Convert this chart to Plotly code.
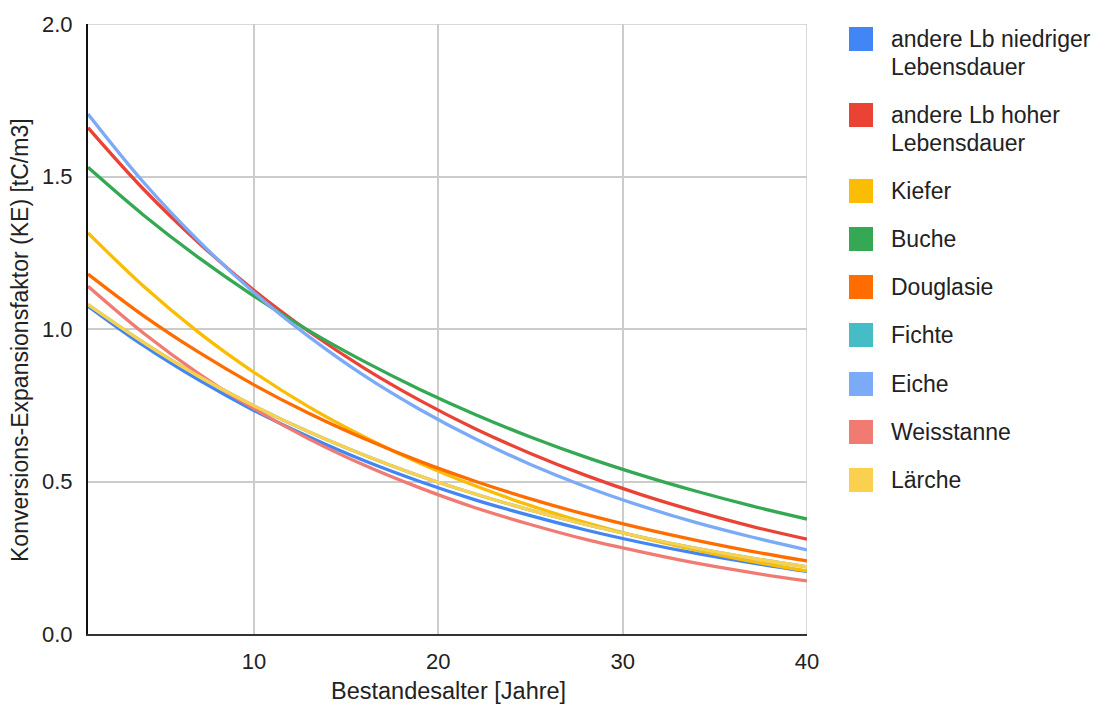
import plotly.graph_objects as go

ages = [1, 4, 7, 10, 13, 16, 19, 22, 25, 28, 31, 34, 37, 40]

names = [
    "andere Lb niedriger<br>Lebensdauer",
    "andere Lb hoher<br>Lebensdauer",
    "Kiefer",
    "Buche",
    "Douglasie",
    "Fichte",
    "Eiche",
    "Weisstanne",
    "Lärche",
]
colors = ["#4285F4", "#EA4335", "#FBBC04", "#34A853", "#FF6D01",
          "#46BDC6", "#7BAAF7", "#F07B72", "#FCD04F"]

lb_niedrig = [1.075, 0.946, 0.833, 0.733, 0.646, 0.568, 0.500, 0.440, 0.388, 0.341, 0.300, 0.264, 0.233, 0.205]
lb_hoch = [1.660, 1.459, 1.283, 1.127, 0.991, 0.871, 0.766, 0.673, 0.592, 0.520, 0.457, 0.402, 0.353, 0.311]
kiefer = [1.315, 1.141, 0.989, 0.858, 0.744, 0.646, 0.560, 0.486, 0.421, 0.365, 0.317, 0.275, 0.238, 0.207]
buche = [1.530, 1.374, 1.234, 1.108, 0.994, 0.893, 0.802, 0.720, 0.646, 0.580, 0.521, 0.468, 0.420, 0.377]
douglasie = [1.180, 1.044, 0.924, 0.817, 0.723, 0.640, 0.566, 0.501, 0.443, 0.392, 0.347, 0.307, 0.271, 0.240]
fichte = [1.080, 0.956, 0.845, 0.748, 0.662, 0.586, 0.518, 0.459, 0.406, 0.359, 0.318, 0.281, 0.249, 0.220]
eiche = [1.705, 1.482, 1.289, 1.120, 0.974, 0.846, 0.736, 0.640, 0.556, 0.483, 0.420, 0.365, 0.318, 0.276]
weisstanne = [1.140, 0.987, 0.854, 0.739, 0.639, 0.553, 0.479, 0.414, 0.359, 0.310, 0.269, 0.232, 0.201, 0.174]
laerche = [1.080, 0.956, 0.845, 0.748, 0.662, 0.586, 0.518, 0.459, 0.406, 0.359, 0.318, 0.281, 0.249, 0.220]

series = [lb_niedrig, lb_hoch, kiefer, buche, douglasie, fichte, eiche, weisstanne, laerche]

x_ticks = [10, 20, 30, 40]
y_ticks = [0.0, 0.5, 1.0, 1.5, 2.0]
y_tick_labels = ["0.0", "0.5", "1.0", "1.5", "2.0"]

x_title = "Bestandesalter [Jahre]"
y_title = "Konversions-Expansionsfaktor (KE) [tC/m3]"

W, H = 1105, 707
L, R, T, B = 88, 807, 24, 634   # plot area in pixels
FONT = "Liberation Sans, Arial, sans-serif"
TXT = "#222222"


def px_x(p):
    return (p - L) / (R - L)


def px_y(p):
    return (B - p) / (B - T)


fig = go.Figure()
for name, col, vals in zip(names, colors, series):
    fig.add_trace(go.Scatter(
        x=ages, y=vals, mode="lines", name=name.replace("<br>", " "),
        line=dict(color=col, width=3.3, shape="spline", smoothing=1.0),
        showlegend=False,
    ))

fig.update_layout(
    width=W, height=H,
    margin=dict(l=L, r=W - R, t=T, b=H - B, autoexpand=False),
    paper_bgcolor="white", plot_bgcolor="white",
    font=dict(family=FONT, size=22, color=TXT),
    showlegend=False,
)
fig.update_xaxes(
    range=[1, 40], tickvals=x_ticks, ticktext=[str(v) for v in x_ticks],
    showgrid=True, gridcolor="#CCCCCC", gridwidth=1.5,
    showline=True, linecolor="#333333", linewidth=2,
    zeroline=False, ticks="outside", ticklen=7, tickcolor="rgba(0,0,0,0)",
    tickfont=dict(family=FONT, size=22, color=TXT), automargin=False,
)
fig.update_yaxes(
    range=[0, 2.0], tickvals=y_ticks, ticktext=y_tick_labels,
    showgrid=True, gridcolor="#CCCCCC", gridwidth=1.5,
    showline=True, linecolor="#111111", linewidth=2,
    zeroline=False, ticks="outside", ticklen=9, tickcolor="rgba(0,0,0,0)",
    tickfont=dict(family=FONT, size=22, color=TXT), automargin=False,
)
# right and top frame gridlines
fig.add_shape(type="line", xref="x", yref="paper", x0=40, x1=40, y0=0, y1=1,
              line=dict(color="#CCCCCC", width=1.5), layer="below")
fig.add_shape(type="line", xref="paper", yref="y", x0=0, x1=1, y0=2, y1=2,
              line=dict(color="#CCCCCC", width=1.5), layer="below")

# axis titles
fig.add_annotation(text=x_title, xref="paper", yref="paper",
                   x=px_x(448), y=px_y(691), xanchor="center", yanchor="middle",
                   showarrow=False, font=dict(family=FONT, size=23.5, color=TXT))
fig.add_annotation(text=y_title, xref="paper", yref="paper",
                   x=px_x(20), y=px_y(340), xanchor="center", yanchor="middle",
                   textangle=-90, showarrow=False,
                   font=dict(family=FONT, size=23, color=TXT))

# custom legend (square swatches + labels)
legend_centers = [39, 115, 191, 239, 287, 335, 384, 432, 480]
for name, col, cy in zip(names, colors, legend_centers):
    fig.add_shape(type="rect", xref="paper", yref="paper",
                  x0=px_x(849), x1=px_x(873), y0=px_y(cy + 12), y1=px_y(cy - 12),
                  fillcolor=col, line=dict(color=col, width=0))
    lines = name.split("<br>")
    for k, ln in enumerate(lines):
        fig.add_annotation(text=ln, xref="paper", yref="paper",
                           x=px_x(889), y=px_y(cy + 28 * k), xanchor="left",
                           yanchor="middle", showarrow=False,
                           font=dict(family=FONT, size=23, color=TXT))

fig.write_html(
    "out.html",
    config={"displayModeBar": False},
    post_script="document.body.style.margin='0';document.body.style.overflow='hidden';",
)
